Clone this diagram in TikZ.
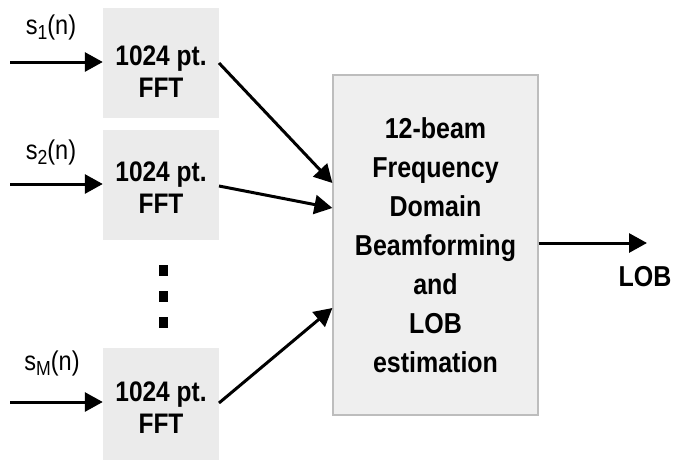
\documentclass[tikz,border=0pt]{standalone}
\usepackage{fontspec}
\usepackage{graphicx}
\setmainfont{Liberation Sans}
\usetikzlibrary{arrows.meta}
\definecolor{fftfill}{HTML}{EBEBEB}
\definecolor{bigfill}{HTML}{EFEFEF}
\definecolor{bigdraw}{HTML}{BDBDBD}
\newcommand{\vs}[1]{\scalebox{0.98}[1.13]{#1}}
\begin{document}
\begin{tikzpicture}[x=1pt,y=-1pt,
  fftbox/.style={fill=fftfill, minimum width=116pt, minimum height=110pt, inner sep=0pt},
  ffttext/.style={inner sep=0pt, font=\fontsize{25}{30}\selectfont\bfseries, align=center},
  bigbox/.style={fill=bigfill, draw=bigdraw, line width=1.2pt, minimum width=205pt, minimum height=340pt,
    inner sep=0pt, font=\fontsize{25.5}{39}\selectfont\bfseries, align=center},
  sig/.style={font=\fontsize{24}{28}\selectfont, inner sep=0pt},
  arr/.style={line width=3pt, -{Triangle[length=18pt,width=19pt]}},
  dotbox/.style={fill=black, minimum width=9pt, minimum height=11pt, inner sep=0pt}
]
\useasboundingbox[fill=white] (0,0) rectangle (673,459);
\node[fftbox] (f1) at (161,63) {};
\node[fftbox] (f2) at (161,185) {};
\node[fftbox, minimum height=112pt] (f3) at (161,404) {};
\node[ffttext] (t1) at (161,72) {\vs{1024 pt.}\\[2pt]\vs{FFT}};
\node[ffttext] (t2) at (161,188) {\vs{1024 pt.}\\[2pt]\vs{FFT}};
\node[ffttext] (t3) at (161,408) {\vs{1024 pt.}\\[2pt]\vs{FFT}};
\node[bigbox] (bb) at (435.5,245) {\vs{12-beam}\\\vs{Frequency}\\\vs{Domain}\\\vs{Beamforming}\\\vs{and}\\\vs{LOB}\\\vs{estimation}};
\node[dotbox] (d1) at (163,270) {};
\node[dotbox] (d2) at (163,296) {};
\node[dotbox] (d3) at (163,322) {};
\node[sig] (l1) at (51,27) {\vs{s\raisebox{-5pt}{\fontsize{18}{20}\selectfont 1}(n)}};
\node[sig] (l2) at (51,152) {\vs{s\raisebox{-5pt}{\fontsize{18}{20}\selectfont 2}(n)}};
\node[sig] (l3) at (52,363) {\vs{s\raisebox{-5pt}{\fontsize{18}{20}\selectfont M}(n)}};
\coordinate (i1) at (10,62);
\coordinate (i2) at (10,184);
\coordinate (i3) at (10,402);
\draw[arr] (i1) -- (f1.west |- i1);
\draw[arr] (i2) -- (f2.west |- i2);
\draw[arr] (i3) -- (f3.west |- i3);
\draw[arr] (219,63) -- (bb.west |- 0,183);
\draw[arr] (219,186) -- (bb.west |- 0,208);
\draw[arr] (219,403) -- (bb.west |- 0,308);
\coordinate (o) at (647,243);
\draw[arr] (bb.east |- o) -- (o);
\node[font=\fontsize{25.5}{30}\selectfont\bfseries, inner sep=0pt] (lob) at (645,277) {\vs{LOB}};
\end{tikzpicture}
\end{document}
